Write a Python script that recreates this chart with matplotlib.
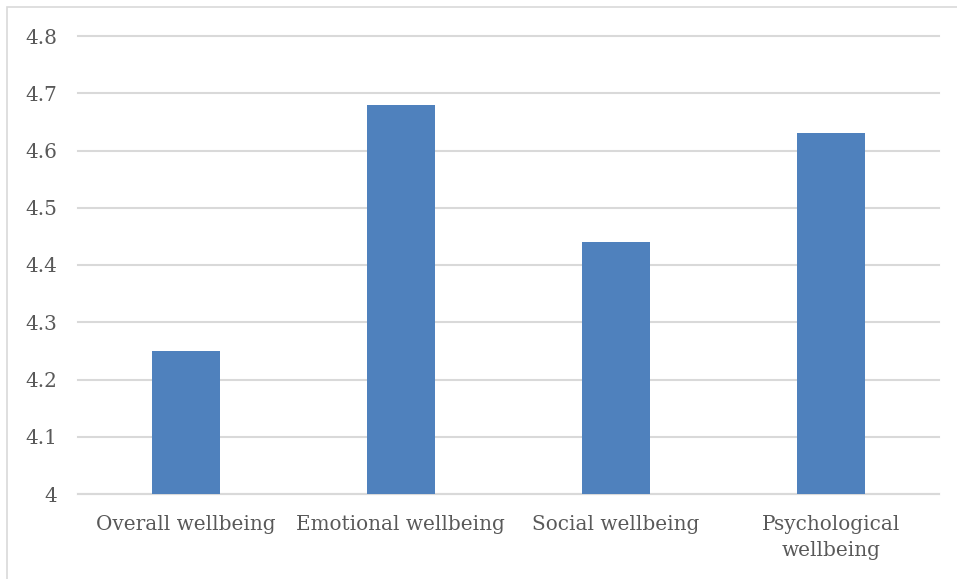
"""Bar chart of mean wellbeing scores by dimension."""

import matplotlib.pyplot as plt
from matplotlib.patches import Rectangle

categories = ["Overall wellbeing", "Emotional wellbeing", "Social wellbeing",
              "Psychological\nwellbeing"]
scores = [4.25, 4.68, 4.44, 4.63]
y_ticks = [4.0, 4.1, 4.2, 4.3, 4.4, 4.5, 4.6, 4.7, 4.8]
y_tick_labels = ["4", "4.1", "4.2", "4.3", "4.4", "4.5", "4.6", "4.7", "4.8"]

BAR_COLOR = "#4F81BD"
TEXT_COLOR = "#595959"
GRID_COLOR = "#D9D9D9"
FONT = "DejaVu Serif"


def main() -> None:
    width, height = 957, 579
    fig = plt.figure(figsize=(width / 100, height / 100), dpi=100)
    ax = fig.add_axes([78 / width, 85 / height, (939 - 78) / width,
                       (494 - 36) / height])

    x = range(len(categories))
    ax.bar(x, scores, width=0.316, color=BAR_COLOR, zorder=3)

    ax.set_xlim(-0.5, len(categories) - 0.5)
    ax.set_ylim(4.0, 4.8)
    ax.set_yticks(y_ticks)
    ax.set_yticklabels(y_tick_labels)
    ax.set_xticks(list(x))
    ax.set_xticklabels(categories, linespacing=1.45)

    ax.grid(axis="y", color=GRID_COLOR, linewidth=1.5, zorder=0)
    for line in ax.get_ygridlines():
        line.set_clip_on(False)
    for side in ("top", "right", "left"):
        ax.spines[side].set_visible(False)
    ax.spines["bottom"].set_color(GRID_COLOR)
    ax.spines["bottom"].set_linewidth(1.5)

    ax.tick_params(axis="both", length=0, colors=TEXT_COLOR, labelsize=14.4)
    ax.tick_params(axis="y", pad=15)
    ax.tick_params(axis="x", pad=15)
    for label in ax.get_xticklabels() + ax.get_yticklabels():
        label.set_fontfamily(FONT)

    # Outer chart frame, clipped by the right and bottom edges
    fig.patches.append(Rectangle((7 / width, -0.1), 1.2, (height - 7) / height + 0.1,
                                 transform=fig.transFigure, fill=False,
                                 edgecolor=GRID_COLOR, linewidth=1.2))

    fig.savefig("out.png", dpi=100)


if __name__ == "__main__":
    main()
